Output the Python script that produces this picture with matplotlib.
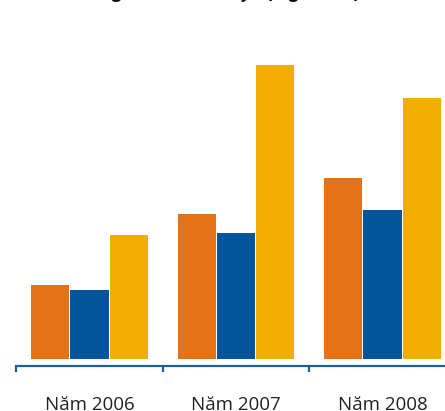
import matplotlib.pyplot as plt

# data
categories = ['Năm 2006', 'Năm 2007', 'Năm 2008']
series_a = [74, 145, 181]    # orange
series_b = [69, 126, 149]    # blue
series_c = [124, 294, 261]   # yellow
title = 'Tổng vốn đầu tư xây dựng trên địa bàn'

colors = ['#E57217', '#00559B', '#F3AD00']

W, H = 445, 411
fig = plt.figure(figsize=(W / 100, H / 100), dpi=100)
ax = fig.add_axes([0, 0, 1, 1])

# bars
width = 0.26
step = 0.268
for i, (vals, c) in enumerate(zip([series_a, series_b, series_c], colors)):
    xs = [k + (i - 1) * step for k in range(len(categories))]
    ax.bar(xs, vals, width=width, color=c, linewidth=0)

# scales: 1 category = 146.5 px, 1 value unit = 1 px
ax.set_xlim(-89.5 / 146.5, (W - 89.5) / 146.5)
ax.set_ylim(-(H - 359), 359)

for s in ['top', 'right', 'left']:
    ax.spines[s].set_visible(False)
ax.spines['bottom'].set_position(('data', -7))
ax.spines['bottom'].set_color('#1F5E9E')
ax.spines['bottom'].set_linewidth(1.6)
ax.spines['bottom'].set_bounds(-0.5, 2.42)

ax.set_yticks([])
ax.set_xticks([-0.5, 0.5, 1.5])
ax.set_xticklabels([])
ax.tick_params(axis='x', direction='out', length=4.5, width=1.6, color='#1F5E9E')

for k, lab in enumerate(categories):
    ax.text(k, -50.5, lab, ha='center', va='baseline', fontsize=13.5,
            family='Open Sans', color='#222222')

# title, mostly above the top edge (only descenders show)
fig.text(82 / W, 1 + 2.0 / H, title, ha='left', va='baseline', fontsize=12,
         fontweight='bold', family='Open Sans', color='#111111')

fig.savefig('out.png', dpi=100, bbox_inches=None)
